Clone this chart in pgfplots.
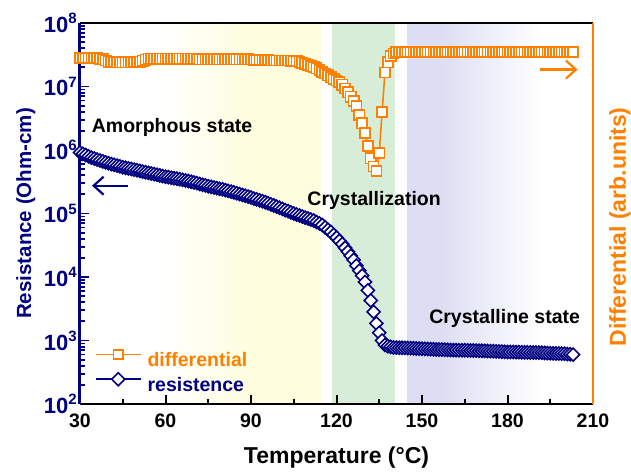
\documentclass[border=0pt]{standalone}
\usepackage{fontspec}
\setmainfont{Liberation Sans}
\usepackage{pgfplots}
\pgfplotsset{compat=1.18}
\usetikzlibrary{arrows.meta}

\definecolor{rnavy}{RGB}{0,0,128}
\definecolor{dorange}{RGB}{255,128,0}
\definecolor{bandyellow}{RGB}{254,254,222}
\definecolor{bandgray}{RGB}{244,244,240}
\definecolor{bandgreen}{RGB}{216,237,216}
\definecolor{bandblue}{RGB}{221,221,243}

% decade label: 10 with a raised exponent
\newcommand\dec[1]{10\raisebox{0.40em}{\fontsize{15}{15}\selectfont #1}}
\newcommand\lblfont{\fontsize{19.5}{22}\selectfont\bfseries}

\begin{document}
\begin{tikzpicture}
\pgfplotsset{
  every axis/.append style={
    at={(0,0)}, anchor=south west, scale only axis,
    width=513pt, height=381pt,
    xmin=30, xmax=210, ymode=log, ymin=1e2, ymax=1e8,
  },
}

% ---------- resistance (left axis) ----------
\begin{axis}[
  axis on top,
  separate axis lines,
  axis y line*=left,
  y axis line style={rnavy, line width=3pt},
  x axis line style={black, line width=2.5pt},
  tick align=inside,
  xtick pos=left,
  major tick length=9pt, minor tick length=5.5pt,
  xtick={30,60,...,210}, minor xtick={45,75,...,195},
  xticklabels={30,60,90,120,150,180,210},
  xtick style={black, line width=2pt},
  ytick style={rnavy, line width=1.8pt},
  ytick={1e2,1e3,1e4,1e5,1e6,1e7,1e8},
  yticklabels={\dec{2},\dec{3},\dec{4},\dec{5},\dec{6},\dec{7},\dec{8}},
  xticklabel style={font=\fontsize{19.5}{22}\selectfont\bfseries, black, anchor=north, inner sep=0pt, yshift=-10pt},
  yticklabel style={font=\fontsize{22}{24}\selectfont\bfseries, rnavy, anchor=east, inner sep=0pt, xshift=-3pt},
  xlabel={Temperature (\textdegree C)},
  xlabel style={font=\fontsize{23}{26}\selectfont\bfseries, black, at={(axis description cs:0.5,-0.155)}, anchor=base},
  ylabel={Resistance (Ohm-cm)},
  ylabel style={font=\fontsize{20.5}{24}\selectfont\bfseries, rnavy, at={(axis description cs:-0.0955,0.5)}, anchor=base},
  legend cell align=left,
  legend image code/.code={\draw[mark repeat=2,mark phase=2] plot coordinates {(0pt,6.5pt) (22.5pt,6.5pt) (45pt,6.5pt)};},
  legend style={draw=none, fill=none, at={(axis description cs:0.0292,0.0827)}, anchor=west,
    inner sep=0pt, outer sep=0pt, row sep=2.3pt, font=\lblfont,
    nodes={inner sep=1pt, text height=14pt, text depth=3pt},
    /tikz/every odd column/.append style={column sep=5pt}},
]
% temperature regions
\shade[left color=white, middle color=bandgray, right color=bandyellow] (axis cs:57,1e2) rectangle (axis cs:91,1e8);
\fill[bandyellow] (axis cs:90.8,1e2) rectangle (axis cs:114.6,1e8);
\fill[bandgreen] (axis cs:118.4,1e2) rectangle (axis cs:140.5,1e8);
\fill[bandblue] (axis cs:144.7,1e2) rectangle (axis cs:156.2,1e8);
\shade[left color=bandblue, right color=white] (axis cs:156,1e2) rectangle (axis cs:192,1e8);

\addlegendimage{dorange, line width=1.6pt, mark=square*, mark size=4.6pt, mark options={fill=white, solid}}
\addlegendentry{\textcolor{dorange}{differential}}

\addplot[rnavy, line width=1.6pt, mark=square*, mark size=4.6pt, mark options={fill=white, rotate=45, solid}] coordinates {
(30,9.12e5) (31,8.71e5) (32,8.32e5) (33,7.94e5) (34,7.59e5) (35,7.33e5) (36,7.08e5) (37,6.84e5) (38,6.61e5) (39,6.38e5)
(40,6.17e5) (41,6.00e5) (42,5.83e5) (43,5.68e5) (44,5.52e5) (45,5.37e5) (46,5.25e5) (47,5.13e5) (48,5.01e5) (49,4.90e5)
(50,4.79e5) (51,4.68e5) (52,4.57e5) (53,4.47e5) (54,4.37e5) (55,4.27e5) (56,4.17e5) (57,4.07e5) (58,3.98e5) (59,3.89e5)
(60,3.80e5) (61,3.73e5) (62,3.66e5) (63,3.60e5) (64,3.53e5) (65,3.47e5) (66,3.39e5) (67,3.31e5) (68,3.24e5) (69,3.16e5)
(70,3.09e5) (71,3.01e5) (72,2.92e5) (73,2.84e5) (74,2.77e5) (75,2.69e5) (76,2.63e5) (77,2.57e5) (78,2.51e5) (79,2.45e5)
(80,2.40e5) (81,2.33e5) (82,2.27e5) (83,2.21e5) (84,2.15e5) (85,2.09e5) (86,2.02e5) (87,1.96e5) (88,1.90e5) (89,1.84e5)
(90,1.78e5) (91,1.72e5) (92,1.67e5) (93,1.61e5) (94,1.56e5) (95,1.51e5) (96,1.45e5) (97,1.39e5) (98,1.34e5) (99,1.28e5)
(100,1.23e5) (101,1.18e5) (102,1.13e5) (103,1.09e5) (104,1.04e5) (105,1.00e5) (106,9.64e4) (107,9.29e4) (108,8.95e4) (109,8.63e4)
(110,8.32e4) (111,8.04e4) (112,7.76e4) (113,7.36e4) (114,6.97e4) (115,6.61e4) (116,6.03e4) (117,5.56e4) (118,5.13e4) (119,4.62e4)
(120,4.17e4) (121,3.72e4) (122,3.31e4) (123,2.88e4) (124,2.51e4) (125,2.16e4) (126,1.86e4) (127,1.51e4) (128,1.26e4) (129,1.05e4)
(130,8.32e3) (131,6.17e3) (132,4.27e3) (133,2.82e3) (134,1.86e3) (135,1.32e3) (136,1.00e3) (137,851) (138,813) (139,794)
(140,776) (141,773) (142,770) (143,767) (144,764) (145,761) (146,757) (147,754) (148,750) (149,746)
(150,741) (151,738) (152,734) (153,731) (154,728) (155,724) (156,721) (157,718) (158,714) (159,711)
(160,708) (161,706) (162,705) (163,703) (164,702) (165,700) (166,698) (167,697) (168,695) (169,694)
(170,692) (171,689) (172,686) (173,683) (174,680) (175,676) (176,673) (177,670) (178,667) (179,664)
(180,661) (181,659) (182,658) (183,656) (184,655) (185,653) (186,652) (187,650) (188,649) (189,647)
(190,646) (191,643) (192,640) (193,637) (194,634) (195,631) (196,629) (197,626) (198,623) (199,620)
(200,617) (201,611) (202,606) (203,600)
};
\addlegendentry{\textcolor{rnavy}{resistence}}

\node[font=\lblfont] at (axis cs:62.3,2.24e6) {Amorphous state};
\node[font=\lblfont] at (axis cs:133.2,1.62e5) {Crystallization};
\node[font=\lblfont] at (axis cs:179,2.19e3) {Crystalline state};
\draw[rnavy, line width=2.2pt, -{Straight Barb[length=10pt,width=18pt]}] (axis cs:46.8,2.74e5) -- (axis cs:34.2,2.74e5);
\end{axis}

% ---------- differential (right axis) ----------
\begin{axis}[
  axis y line*=right,
  axis x line=none,
  y axis line style={dorange, line width=2.5pt},
  ytick=\empty, yminorticks=false,
  ylabel={Differential (arb.units)},
  ylabel style={font=\fontsize{23}{26}\selectfont\bfseries, dorange, at={(axis description cs:1.0643,0.465)}, anchor=base},
]
\addplot[dorange, line width=1.6pt, mark=square*, mark size=5.1pt, mark options={fill=white, solid}] coordinates {
(30,2.82e7) (31,2.82e7) (32,2.82e7) (33,2.82e7) (34,2.82e7) (35,2.82e7) (36,2.82e7) (37,2.75e7) (38,2.69e7) (39,2.57e7)
(40,2.45e7) (41,2.42e7) (42,2.42e7) (43,2.40e7) (44,2.40e7) (45,2.40e7) (46,2.40e7) (47,2.40e7) (48,2.40e7) (49,2.42e7)
(50,2.42e7) (51,2.45e7) (52,2.55e7) (53,2.65e7) (54,2.75e7) (55,2.75e7) (56,2.75e7) (57,2.75e7) (58,2.75e7) (59,2.75e7)
(60,2.75e7) (61,2.75e7) (62,2.75e7) (63,2.75e7) (64,2.75e7) (65,2.75e7) (66,2.75e7) (67,2.75e7) (68,2.75e7) (69,2.75e7)
(70,2.75e7) (71,2.72e7) (72,2.69e7) (73,2.69e7) (74,2.69e7) (75,2.69e7) (76,2.69e7) (77,2.69e7) (78,2.69e7) (79,2.69e7)
(80,2.69e7) (81,2.69e7) (82,2.69e7) (83,2.69e7) (84,2.69e7) (85,2.69e7) (86,2.69e7) (87,2.69e7) (88,2.69e7) (89,2.69e7)
(90,2.66e7) (91,2.63e7) (92,2.63e7) (93,2.63e7) (94,2.63e7) (95,2.63e7) (96,2.60e7) (97,2.57e7) (98,2.57e7) (99,2.57e7)
(100,2.57e7) (101,2.57e7) (102,2.57e7) (103,2.57e7) (104,2.55e7) (105,2.51e7) (106,2.51e7) (107,2.45e7) (108,2.37e7) (109,2.29e7)
(110,2.21e7) (111,2.11e7) (112,2.04e7) (113,1.93e7) (114,1.82e7) (115,1.70e7) (116,1.60e7) (117,1.50e7) (118,1.40e7) (119,1.32e7)
(120,1.24e7) (121,1.17e7) (122,1.07e7) (123,9.33e6) (124,8.13e6) (125,6.92e6) (126,5.89e6) (127,4.90e6) (128,3.55e6) (129,2.63e6)
(130,1.86e6) (131,1.15e6) (132,7.41e5) (133,5.50e5) (134,4.68e5) (135,8.91e5) (136,3.98e6) (137,1.66e7) (138,2.40e7) (139,3.02e7)
(140,3.31e7) (141,3.47e7) (142,3.50e7) (143,3.50e7) (144,3.50e7) (145,3.50e7) (146,3.50e7) (147,3.50e7) (148,3.50e7) (149,3.50e7)
(150,3.50e7) (151,3.50e7) (152,3.50e7) (153,3.50e7) (154,3.50e7) (155,3.50e7) (156,3.50e7) (157,3.50e7) (158,3.50e7) (159,3.50e7)
(160,3.50e7) (161,3.50e7) (162,3.50e7) (163,3.50e7) (164,3.50e7) (165,3.50e7) (166,3.50e7) (167,3.50e7) (168,3.50e7) (169,3.50e7)
(170,3.50e7) (171,3.50e7) (172,3.50e7) (173,3.50e7) (174,3.50e7) (175,3.50e7) (176,3.50e7) (177,3.50e7) (178,3.50e7) (179,3.50e7)
(180,3.50e7) (181,3.50e7) (182,3.50e7) (183,3.50e7) (184,3.50e7) (185,3.50e7) (186,3.50e7) (187,3.50e7) (188,3.50e7) (189,3.50e7)
(190,3.50e7) (191,3.50e7) (192,3.50e7) (193,3.50e7) (194,3.50e7) (195,3.50e7) (196,3.50e7) (197,3.50e7) (198,3.50e7) (199,3.50e7)
(200,3.50e7) (201,3.50e7) (202,3.50e7) (203,3.50e7)
};
\draw[dorange, line width=2.2pt, -{Straight Barb[length=10pt,width=18pt]}] (axis cs:191.4,1.85e7) -- (axis cs:204.6,1.85e7);
\end{axis}

\pgfresetboundingbox
\useasboundingbox (-80pt,-68pt) rectangle (551pt,404pt);
\end{tikzpicture}
\end{document}
